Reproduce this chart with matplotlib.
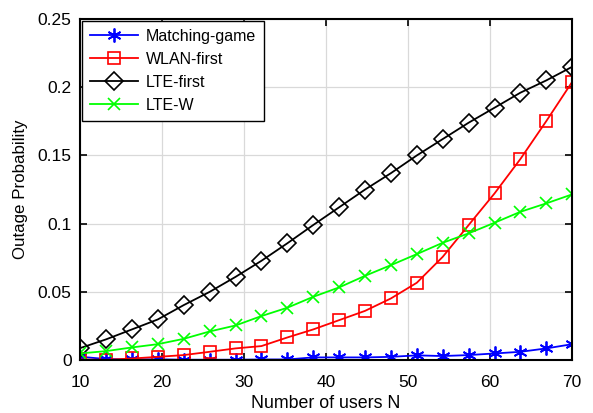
import matplotlib
matplotlib.use('Agg')
import matplotlib.pyplot as plt

plt.rcParams['font.family'] = ['Liberation Sans', 'DejaVu Sans']

users_n = [10.0, 13.16, 16.32, 19.47, 22.63, 25.79, 28.95, 32.11, 35.26, 38.42,
           41.58, 44.74, 47.89, 51.05, 54.21, 57.37, 60.53, 63.68, 66.84, 70.0]

matching_game = [0.0025, 0.0008, 0.0005, 0.0006, 0.0003, 0.0003, 0.0003, 0.0005, 0.0005, 0.0020,
                 0.0020, 0.0020, 0.0024, 0.0035, 0.0030, 0.0037, 0.0049, 0.0061, 0.0086, 0.0117]
wlan_first = [0.0005, 0.0002, 0.0012, 0.0024, 0.0037, 0.0061, 0.0086, 0.0103, 0.0166, 0.0225,
              0.0293, 0.0361, 0.0452, 0.0567, 0.0757, 0.0990, 0.1222, 0.1474, 0.1752, 0.2040]
lte_first = [0.0088, 0.0152, 0.0225, 0.0298, 0.0403, 0.0500, 0.0610, 0.0728, 0.0856, 0.0990,
             0.1120, 0.1250, 0.1370, 0.1500, 0.1620, 0.1740, 0.1850, 0.1960, 0.2050, 0.2150]
lte_w = [0.0049, 0.0066, 0.0093, 0.0117, 0.0156, 0.0210, 0.0254, 0.0323, 0.0384, 0.0464,
         0.0533, 0.0618, 0.0696, 0.0777, 0.0860, 0.0929, 0.1007, 0.1087, 0.1149, 0.1215]

fig = plt.figure(figsize=(5.93, 4.13), dpi=100)
ax = fig.add_axes([0.135, 0.128, 0.83, 0.826])

# asterisk marker: 6 spokes, one pointing straight up
ax.plot(users_n, matching_game, color='#0000ff', marker=(6, 2, 0), ms=10, mew=1.3,
        lw=1.3, label='Matching-game')
ax.plot(users_n, wlan_first, color='#ff0000', marker='s', ms=9, mew=1.2,
        lw=1.3, fillstyle='none', label='WLAN-first')
ax.plot(users_n, lte_first, color='black', marker='D', ms=9.5, mew=1.2,
        lw=1.3, fillstyle='none', label='LTE-first')
ax.plot(users_n, lte_w, color='#00ff00', marker='x', ms=8, mew=1.2,
        lw=1.3, label='LTE-W')

ax.set_xlim(10, 70)
ax.set_ylim(0, 0.25)
ax.set_xticks([10, 20, 30, 40, 50, 60, 70])
ax.set_yticks([0, 0.05, 0.1, 0.15, 0.2, 0.25])
ax.set_yticklabels(['0', '0.05', '0.1', '0.15', '0.2', '0.25'])
ax.tick_params(direction='in', top=True, right=True, labelsize=12.5, length=5, width=1.2)
ax.tick_params(axis='x', pad=11)
ax.tick_params(axis='y', pad=6)
ax.grid(True, color='#d9d9d9', lw=0.9)
for sp in ax.spines.values():
    sp.set_linewidth(1.5)

ax.set_xlabel('Number of users N', fontsize=12.8, labelpad=3)
ax.set_ylabel('Outage Probability', fontsize=12.2, labelpad=7)

leg = ax.legend(loc='upper left', fontsize=11.5, fancybox=False, framealpha=1,
                edgecolor='black', borderaxespad=0.1, handlelength=3.0,
                handletextpad=0.5, labelspacing=0.5, borderpad=0.5)
leg.get_frame().set_linewidth(1.0)

fig.savefig('out.png', dpi=100)
